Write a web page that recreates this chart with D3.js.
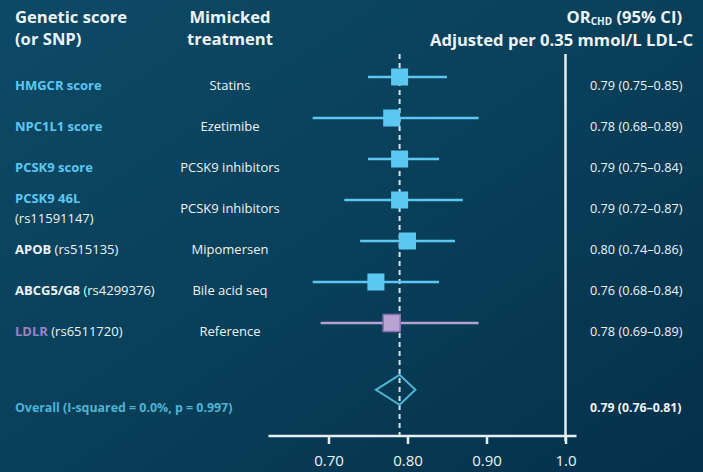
<!DOCTYPE html>
<html>
<head>
<meta charset="utf-8">
<script src="https://cdn.jsdelivr.net/npm/d3@7"></script>
<style>
  html, body { margin: 0; padding: 0; background: #083a53; }
  svg { display: block; font-family: "Open Sans", Lato, sans-serif; }
</style>
</head>
<body>
<svg id="chart" width="703" height="472"></svg>
<script>
// Genetic instruments and the drug class each one mimics
const genes = ["HMGCR score", "NPC1L1 score", "PCSK9 score", "PCSK9 46L", "APOB", "ABCG5/G8", "LDLR"];
const snps = ["", "", "", "(rs11591147)", "(rs515135)", "(rs4299376)", "(rs6511720)"];
const geneKinds = ["score", "score", "score", "score", "snp", "snp", "reference"];
const treatments = ["Statins", "Ezetimibe", "PCSK9 inhibitors", "PCSK9 inhibitors", "Mipomersen", "Bile acid seq", "Reference"];

// Odds ratios for CHD per 0.35 mmol/L lower LDL-C, with 95% CI
const orValues = [0.79, 0.78, 0.79, 0.79, 0.80, 0.76, 0.78];
const ciLow    = [0.75, 0.68, 0.75, 0.72, 0.74, 0.68, 0.69];
const ciHigh   = [0.85, 0.89, 0.84, 0.87, 0.86, 0.84, 0.89];

// Pooled estimate
const overallLabel = "Overall (I-squared = 0.0%, p = 0.997)";
const overallOR = [0.79];
const overallLow = [0.76];
const overallHigh = [0.81];

// Axis ticks
const xTicks = [0.70, 0.80, 0.90, 1.0];
const xTickLabels = ["0.70", "0.80", "0.90", "1.0"];

const svg = d3.select("#chart");
const W = 703, H = 472;

// background
const defs = svg.append("defs");
const bg = defs.append("linearGradient").attr("id", "bg")
  .attr("x1", "0%").attr("y1", "0%").attr("x2", "100%").attr("y2", "100%");
bg.append("stop").attr("offset", "0%").attr("stop-color", "#0d4a66");
bg.append("stop").attr("offset", "55%").attr("stop-color", "#093e58");
bg.append("stop").attr("offset", "100%").attr("stop-color", "#04304a");
svg.append("rect").attr("width", W).attr("height", H).attr("fill", "url(#bg)");

const COL_BLUE = "#5cc8f2";
const COL_PURPLE = "#9d82c4";
const COL_TEXT = "#eef3f6";
const COL_OVERALL = "#4db4d4";

// scales
const x = d3.scaleLinear().domain([0.70, 1.0]).range([328.5, 565.5]);
const rowY = d3.scaleLinear().domain([0, 6]).range([85, 331]);
const overallRow = 7.85;
const markShift = -8;
const axisY = 436;
const plotTop = 54;

// header
const header = svg.append("g").attr("fill", COL_TEXT).attr("font-weight", 700).attr("font-size", 16.6);
header.append("text").attr("x", 15).attr("y", 23).text("Genetic score");
header.append("text").attr("x", 15).attr("y", 45).text("(or SNP)");
header.append("text").attr("x", 230).attr("y", 23).attr("text-anchor", "middle").text("Mimicked");
header.append("text").attr("x", 230).attr("y", 45).attr("text-anchor", "middle").text("treatment");
const orT = header.append("text").attr("x", 682).attr("y", 22.5).attr("text-anchor", "end");
orT.append("tspan").text("OR");
orT.append("tspan").attr("font-size", 10).attr("dy", 2.5).text("CHD");
orT.append("tspan").attr("dy", -2.5).text(" (95% CI)");
header.append("text").attr("x", 693).attr("y", 46).attr("text-anchor", "end").text("Adjusted per 0.35 mmol/L LDL-C");

// left labels
const labels = svg.append("g").attr("font-size", 13);
genes.forEach((g, i) => {
  const kind = geneKinds[i];
  const col = kind === "score" ? COL_BLUE : kind === "reference" ? COL_PURPLE : COL_TEXT;
  const y = rowY(i) + 5;
  if (kind === "score" && snps[i]) {
    labels.append("text").attr("x", 15).attr("y", y - 10).attr("fill", col).attr("font-weight", 700).text(g);
    labels.append("text").attr("x", 15).attr("y", y + 10).attr("fill", COL_TEXT).text(snps[i]);
  } else {
    const t = labels.append("text").attr("x", 15).attr("y", y);
    t.append("tspan").attr("fill", col).attr("font-weight", 700).text(g);
    if (snps[i]) t.append("tspan").attr("fill", COL_TEXT).text(" " + snps[i]);
  }
  labels.append("text").attr("x", 230).attr("y", y).attr("text-anchor", "middle")
    .attr("fill", COL_TEXT).text(treatments[i]);
});
labels.append("text").attr("x", 15).attr("y", rowY(overallRow) + 5)
  .attr("fill", COL_OVERALL).attr("font-weight", 700).attr("font-size", 12.4).text(overallLabel);

// value column
const fmt = d3.format(".2f");
const vals = svg.append("g").attr("font-size", 12.7).attr("fill", COL_TEXT);
orValues.forEach((v, i) => {
  vals.append("text").attr("x", 590).attr("y", rowY(i) + 5)
    .text(`${fmt(v)} (${fmt(ciLow[i])}\u2013${fmt(ciHigh[i])})`);
});
vals.append("text").attr("x", 590).attr("y", rowY(overallRow) + 5).attr("font-weight", 700)
  .attr("font-size", 12.3)
  .text(`${fmt(overallOR[0])} (${fmt(overallLow[0])}\u2013${fmt(overallHigh[0])})`);

// reference (pooled) dashed line
svg.append("line")
  .attr("x1", x(overallOR[0])).attr("x2", x(overallOR[0]))
  .attr("y1", plotTop).attr("y2", axisY)
  .attr("stroke", "#d8e4ea").attr("stroke-width", 2).attr("stroke-dasharray", "5,4");

// null line at OR = 1
svg.append("line")
  .attr("x1", x(1)).attr("x2", x(1))
  .attr("y1", plotTop).attr("y2", axisY + 5)
  .attr("stroke", "#e6eef2").attr("stroke-width", 2.5);

// axis
const axisG = svg.append("g").attr("transform", `translate(0,${axisY})`)
  .call(d3.axisBottom(x).tickValues(xTicks).tickSize(8)
    .tickFormat((d, i) => xTickLabels[i]));
axisG.select(".domain").remove();
axisG.selectAll(".tick line").attr("stroke", "#e6eef2").attr("stroke-width", 2.5);
axisG.selectAll(".tick text").attr("fill", COL_TEXT).attr("font-size", 15)
  .attr("font-family", "'Open Sans', sans-serif").attr("dy", "1.25em");
svg.append("line")
  .attr("x1", x.range()[0] - 60).attr("x2", x.range()[1] + 11)
  .attr("y1", axisY).attr("y2", axisY)
  .attr("stroke", "#e6eef2").attr("stroke-width", 2.5);

// CI whiskers and point estimates
const marks = svg.append("g");
orValues.forEach((v, i) => {
  const ref = geneKinds[i] === "reference";
  const y = rowY(i) + markShift;
  marks.append("line")
    .attr("x1", x(ciLow[i])).attr("x2", x(ciHigh[i]))
    .attr("y1", y).attr("y2", y)
    .attr("stroke", ref ? "#b4a2d0" : COL_BLUE).attr("stroke-width", 2.5);
  const s = 17;
  marks.append("rect")
    .attr("x", x(v) - s / 2).attr("y", y - s / 2).attr("width", s).attr("height", s)
    .attr("fill", ref ? "#b9a3d2" : COL_BLUE)
    .attr("stroke", ref ? "#8f6fb4" : "none").attr("stroke-width", 1.5);
});

// pooled diamond
const dy = rowY(overallRow) - 17;
const dh = 15;
marks.append("path")
  .attr("d", `M${x(overallLow[0])},${dy} L${x(overallOR[0])},${dy - dh} L${x(overallHigh[0])},${dy} L${x(overallOR[0])},${dy + dh} Z`)
  .attr("fill", "none").attr("stroke", COL_OVERALL).attr("stroke-width", 2);
</script>
</body>
</html>
